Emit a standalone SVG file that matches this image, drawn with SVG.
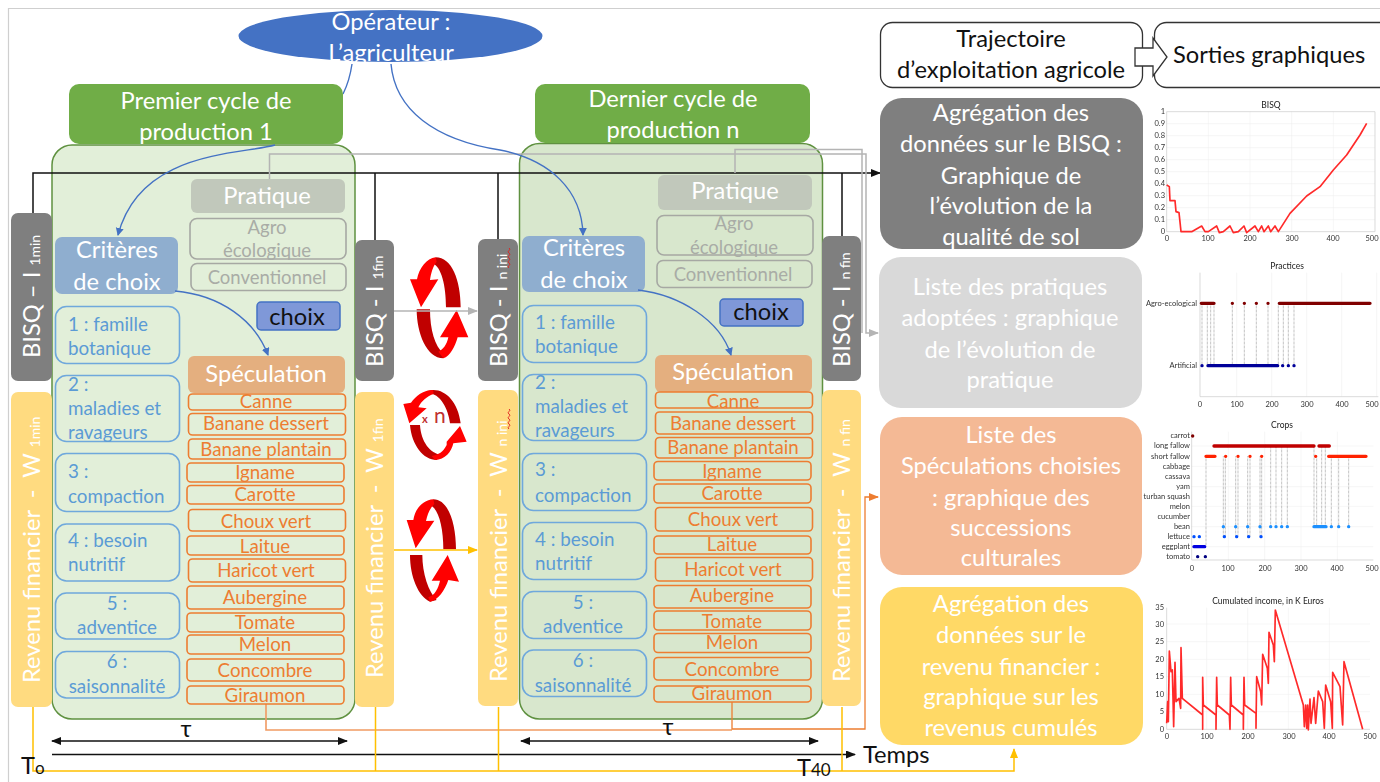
<svg xmlns="http://www.w3.org/2000/svg" width="1380" height="782" viewBox="0 0 1380 782">
<defs>
<style>
text{font-family:"Lato","Liberation Sans",sans-serif}
.w{fill:#fff}.k{fill:#111}
.c{text-anchor:middle}
.t24{font-size:23.7px}.t22{font-size:23.700px}
.bisq{fill:#7f7f7f}.rev{fill:#ffdb80}
.crit{fill:#8faecf}.prat{fill:#c1c8bb}.spec{fill:#e4af7f}
.gbox{fill:none;stroke:#a6a8a3;stroke-width:1.6}
.gtxt{fill:#a9aca6;font-size:18.5px;text-anchor:middle}
.cbox{fill:none;stroke:#6fa8dc;stroke-width:1.6}
.ctxt{fill:#5b9bd5;font-size:18.8px}
.obox{fill:none;stroke:#ed7d31;stroke-width:1.6}
.otxt{fill:#ed7d31;font-size:18.7px;text-anchor:middle}
.blue{fill:none;stroke:#4472c4;stroke-width:1.4}
.blk{fill:none;stroke:#111;stroke-width:1.5}
.gry{fill:none;stroke:#b4b4b4;stroke-width:1.5}
.gold{fill:none;stroke:#ffc000;stroke-width:1.5}
.org{fill:none;stroke:#ed7d31;stroke-width:1.3}
.dk{fill:#c00000}.br{fill:#ff0000}
.axis{fill:none;stroke:#c8c8c8;stroke-width:2}
.grid{fill:none;stroke:#ececec;stroke-width:1.5}
.lab{font-size:7.5px;fill:#333}
.ttl{font-size:8.5px;fill:#222;text-anchor:middle}
.rd{fill:none;stroke:#ff2a2a;stroke-width:5;stroke-linejoin:round}
.dot{fill:none;stroke-linecap:round;stroke-width:10}
.vd{fill:none;stroke:#777;stroke-width:2;stroke-dasharray:2 2}
.sq{fill:none;stroke:#e02020;stroke-width:.9}
</style>
<marker id="mb" markerWidth="9" markerHeight="9" refX="7" refY="4" orient="auto" markerUnits="userSpaceOnUse"><path d="M0 0L8 4L0 8Z" fill="#4472c4"/></marker>
<marker id="mk" markerWidth="11" markerHeight="9" refX="9" refY="4" orient="auto" markerUnits="userSpaceOnUse"><path d="M0 0L10 4L0 8Z" fill="#111"/></marker>
<marker id="mks" markerWidth="11" markerHeight="9" refX="1" refY="4" orient="auto" markerUnits="userSpaceOnUse"><path d="M10 0L0 4L10 8Z" fill="#111"/></marker>
<marker id="mg" markerWidth="11" markerHeight="9" refX="9" refY="4" orient="auto" markerUnits="userSpaceOnUse"><path d="M0 0L10 4L0 8Z" fill="#b4b4b4"/></marker>
<marker id="my" markerWidth="11" markerHeight="9" refX="9" refY="4" orient="auto" markerUnits="userSpaceOnUse"><path d="M0 0L10 4L0 8Z" fill="#ffc000"/></marker>
<marker id="mo" markerWidth="11" markerHeight="9" refX="9" refY="4" orient="auto" markerUnits="userSpaceOnUse"><path d="M0 0L10 4L0 8Z" fill="#ed7d31"/></marker>
<filter id="soft" x="-5%" y="-5%" width="110%" height="110%"><feGaussianBlur stdDeviation="0.45"/></filter>
<filter id="softt" x="-5%" y="-5%" width="110%" height="110%"><feGaussianBlur stdDeviation="0.3"/></filter>
</defs>
<rect width="1380" height="782" fill="#fff"/>
<path d="M8.5 782V8.5H1380" fill="none" stroke="#cfcfcf" stroke-width="1.2"/>

<g id="cycle1-box"><rect x="52" y="145" width="303" height="574" rx="20" fill="#e2efd9" stroke="#5f9140" stroke-width="1.5"/></g>
<g id="cycle2-box"><rect x="519.5" y="143.5" width="303" height="575.500" rx="20" fill="#d8e7cd" stroke="#5f9140" stroke-width="1.5"/></g>

<g id="connectors">
<path class="blk" d="M33 213V173H880" marker-end="url(#mk)"/>
<path class="blk" d="M375 173V240M498 173V239M842 173V236"/>
<path class="gry" d="M269.500 179V154H866V333H878" marker-end="url(#mg)"/>
<path class="gry" d="M735 173V149.500H862V333"/>
<path d="M266 704V730H732" fill="none" stroke="#f19a62" stroke-width="1.600"/>
<path class="org" d="M732 702V729H865V497H878" marker-end="url(#mo)"/>
<path class="blk" d="M52 741H347" marker-start="url(#mks)" marker-end="url(#mk)"/>
<path class="blk" d="M521 741H818" marker-start="url(#mks)" marker-end="url(#mk)"/>
<path class="blk" d="M52 754.500H855" marker-end="url(#mk)"/>
<path class="gold" d="M33 707V771H1014V749" marker-end="url(#my)"/>
<path class="gold" d="M375.500 707V771M498.500 707V771M842 707V771"/>
<path class="blue" d="M352 64C350 78 347 86 343 94"/>
<path class="blue" d="M391 64C395 110 435 140 500 150C550 160 582 190 583 235" marker-end="url(#mb)"/>
</g>

<g id="operateur"><ellipse cx="390.500" cy="36" rx="152" ry="26" fill="#4472c4"/>
<text class="w c t24" x="391" y="30">Opérateur :</text><text class="w c t24" x="391" y="61">L’agriculteur</text></g>

<g id="cycle1-title"><rect x="69" y="84" width="274" height="60" rx="10" fill="#70ad47"/>
<text class="w c t24" x="206" y="109">Premier cycle de</text><text class="w c t24" x="206" y="140">production 1</text></g>
<g id="cycle2-title"><rect x="535" y="84" width="275" height="59" rx="10" fill="#70ad47"/>
<text class="w c t24" x="673" y="107">Dernier cycle de</text><text class="w c t24" x="673" y="138">production n</text></g>

<g id="bisq-1min"><rect class="bisq" x="11" y="213" width="41" height="168" rx="7"/><text class="w t22" transform="translate(40 358) rotate(-90)">BISQ – I <tspan font-size="14">1min</tspan></text></g>
<g id="bisq-1fin"><rect class="bisq" x="355" y="240" width="39" height="141" rx="7"/><text class="w t22" transform="translate(383 367) rotate(-90)">BISQ - I <tspan font-size="14">1fin</tspan></text></g>
<g id="bisq-nini"><rect class="bisq" x="478" y="239" width="40" height="142" rx="7"/><text class="w t22" transform="translate(507 367) rotate(-90)">BISQ - I <tspan font-size="14">n ini</tspan></text><path class="sq" d="M509 248q2 1 0 2.500t0 2.500t0 2.500t0 2.500t0 2.500t0 2.500t0 2.500t0 2.500"/></g>
<g id="bisq-nfin"><rect class="bisq" x="822" y="236" width="39" height="145" rx="7"/><text class="w t22" transform="translate(850 367) rotate(-90)">BISQ - I <tspan font-size="14">n fin</tspan></text></g>

<g id="rev-1min"><rect class="rev" x="11" y="392" width="41" height="315" rx="7"/><text class="w t22" transform="translate(40 683) rotate(-90)">Revenu financier &#160;- &#160;W <tspan font-size="14">1min</tspan></text></g>
<g id="rev-1fin"><rect class="rev" x="355" y="392" width="39" height="315" rx="7"/><text class="w t22" transform="translate(383 678) rotate(-90)">Revenu financier &#160;- &#160;W <tspan font-size="14">1fin</tspan></text></g>
<g id="rev-nini"><rect class="rev" x="478" y="390" width="40" height="316" rx="7"/><text class="w t22" transform="translate(507 682) rotate(-90)">Revenu financier &#160;- &#160;W <tspan font-size="14">n ini</tspan></text><path class="sq" d="M509 409q2 1 0 2.500t0 2.500t0 2.500t0 2.500t0 2.500t0 2.500t0 2.500t0 2.500"/></g>
<g id="rev-nfin"><rect class="rev" x="822" y="390" width="39" height="316" rx="7"/><text class="w t22" transform="translate(850 682) rotate(-90)">Revenu financier &#160;- &#160;W <tspan font-size="14">n fin</tspan></text></g>

<g id="pratique1"><rect class="prat" x="191" y="179" width="154" height="34" rx="6"/><text class="w c t22" x="267" y="204">Pratique</text></g>
<g id="agro1"><rect class="gbox" x="190" y="218.500" width="156" height="40.500" rx="7"/><text class="gtxt" x="267" y="234">Agro</text><text class="gtxt" x="267" y="257">écologique</text></g>
<g id="conv1"><rect class="gbox" x="191" y="263.500" width="155" height="27" rx="6"/><text class="gtxt" x="267" y="284">Conventionnel</text></g>
<g id="criteres1"><rect class="crit" x="55" y="237" width="123" height="57" rx="7"/><text class="w c t22" x="117" y="258">Critères</text><text class="w c t22" x="117" y="290">de choix</text></g>
<g id="choix1"><rect x="257" y="302" width="83" height="28" rx="4" fill="#7f98d8" stroke="#4472c4" stroke-width="1.500"/><text class="k c t22" x="297" y="325">choix</text></g>
<g id="c1-1"><rect class="cbox" x="55.500" y="306.500" width="124" height="57" rx="11"/><text class="ctxt" x="68" y="331">1 : famille</text><text class="ctxt" x="68" y="355">botanique</text></g>
<g id="c1-2"><rect class="cbox" x="55.500" y="375.500" width="124" height="66" rx="11"/><text class="ctxt" x="68" y="391">2 :</text><text class="ctxt" x="68" y="415">maladies et</text><text class="ctxt" x="68" y="439">ravageurs</text></g>
<g id="c1-3"><rect class="cbox" x="55.500" y="453.500" width="124" height="58" rx="11"/><text class="ctxt" x="68" y="478">3 :</text><text class="ctxt" x="68" y="503">compaction</text></g>
<g id="c1-4"><rect class="cbox" x="55.500" y="524" width="124" height="57" rx="11"/><text class="ctxt" x="68" y="547">4 : besoin</text><text class="ctxt" x="68" y="571">nutritif</text></g>
<g id="c1-5"><rect class="cbox" x="55.500" y="593" width="124" height="46" rx="11"/><text class="ctxt c" x="117" y="610">5 :</text><text class="ctxt c" x="117" y="634">adventice</text></g>
<g id="c1-6"><rect class="cbox" x="55.500" y="651.500" width="124" height="46.500" rx="11"/><text class="ctxt c" x="117" y="668">6 :</text><text class="ctxt c" x="117" y="693">saisonnalité</text></g>
<g id="speculation1"><rect class="spec" x="188" y="356" width="157" height="37" rx="6"/><text class="w c t22" x="266" y="382">Spéculation</text></g>
<g id="crops1">
<rect class="obox" x="188.500" y="394" width="157" height="16" rx="4"/><text class="otxt" x="266" y="408">Canne</text>
<rect class="obox" x="188.500" y="413.500" width="157" height="21.500" rx="4"/><text class="otxt" x="266" y="430">Banane dessert</text>
<rect class="obox" x="188.500" y="439" width="157" height="20" rx="4"/><text class="otxt" x="266" y="456">Banane plantain</text>
<rect class="obox" x="187" y="463" width="157" height="19" rx="4"/><text class="otxt" x="265" y="479">Igname</text>
<rect class="obox" x="187" y="485.500" width="157" height="18.500" rx="4"/><text class="otxt" x="265" y="501">Carotte</text>
<rect class="obox" x="188.500" y="509.500" width="157" height="21.500" rx="4"/><text class="otxt" x="266" y="528">Choux vert</text>
<rect class="obox" x="187" y="536" width="157" height="19" rx="4"/><text class="otxt" x="265" y="553">Laitue</text>
<rect class="obox" x="188.500" y="559" width="157" height="23" rx="4"/><text class="otxt" x="266" y="577">Haricot vert</text>
<rect class="obox" x="187" y="586" width="157" height="23" rx="4"/><text class="otxt" x="265" y="604">Aubergine</text>
<rect class="obox" x="187" y="613" width="157" height="19" rx="4"/><text class="otxt" x="265" y="629">Tomate</text>
<rect class="obox" x="187" y="635" width="157" height="19" rx="4"/><text class="otxt" x="265" y="651">Melon</text>
<rect class="obox" x="187" y="659" width="157" height="22" rx="4"/><text class="otxt" x="265" y="677">Concombre</text>
<rect class="obox" x="187" y="686" width="157" height="18" rx="4"/><text class="otxt" x="265" y="702">Giraumon</text>
</g>

<g id="pratique2"><rect class="prat" x="658" y="175" width="154" height="35" rx="6"/><text class="w c t22" x="735" y="199">Pratique</text></g>
<g id="agro2"><rect class="gbox" x="657" y="215.500" width="156" height="39.500" rx="7"/><text class="gtxt" x="734" y="230">Agro</text><text class="gtxt" x="734" y="254">écologique</text></g>
<g id="conv2"><rect class="gbox" x="657" y="260.500" width="155" height="27" rx="6"/><text class="gtxt" x="733" y="281">Conventionnel</text></g>
<g id="criteres2"><rect class="crit" x="522" y="236" width="123" height="56" rx="7"/><text class="w c t22" x="584" y="256">Critères</text><text class="w c t22" x="584" y="288">de choix</text></g>
<g id="choix2"><rect x="720" y="299" width="83" height="27" rx="4" fill="#7f98d8" stroke="#4472c4" stroke-width="1.500"/><text class="k c t22" x="761" y="320">choix</text></g>
<g id="c2-1"><rect class="cbox" x="522.500" y="305.500" width="124" height="57" rx="11"/><text class="ctxt" x="535" y="329">1 : famille</text><text class="ctxt" x="535" y="353">botanique</text></g>
<g id="c2-2"><rect class="cbox" x="522.500" y="374.500" width="124" height="66" rx="11"/><text class="ctxt" x="535" y="389">2 :</text><text class="ctxt" x="535" y="413">maladies et</text><text class="ctxt" x="535" y="437">ravageurs</text></g>
<g id="c2-3"><rect class="cbox" x="522.500" y="453.500" width="124" height="57" rx="11"/><text class="ctxt" x="535" y="476">3 :</text><text class="ctxt" x="535" y="502">compaction</text></g>
<g id="c2-4"><rect class="cbox" x="522.500" y="522.500" width="124" height="57" rx="11"/><text class="ctxt" x="535" y="546">4 : besoin</text><text class="ctxt" x="535" y="570">nutritif</text></g>
<g id="c2-5"><rect class="cbox" x="522.500" y="591.500" width="124" height="47" rx="11"/><text class="ctxt c" x="583" y="609">5 :</text><text class="ctxt c" x="583" y="633">adventice</text></g>
<g id="c2-6"><rect class="cbox" x="522.500" y="650" width="124" height="46.500" rx="11"/><text class="ctxt c" x="583" y="667">6 :</text><text class="ctxt c" x="583" y="692">saisonnalité</text></g>
<g id="speculation2"><rect class="spec" x="655" y="355" width="157" height="37" rx="6"/><text class="w c t22" x="733" y="380">Spéculation</text></g>
<g id="crops2">
<rect class="obox" x="655.500" y="392" width="157" height="16" rx="4"/><text class="otxt" x="733" y="408">Canne</text>
<rect class="obox" x="655.500" y="412" width="157" height="22" rx="4"/><text class="otxt" x="733" y="430">Banane dessert</text>
<rect class="obox" x="655.500" y="437.500" width="157" height="20.500" rx="4"/><text class="otxt" x="733" y="454">Banane plantain</text>
<rect class="obox" x="654" y="461.500" width="157" height="18.500" rx="4"/><text class="otxt" x="732" y="478">Igname</text>
<rect class="obox" x="654" y="484" width="157" height="19" rx="4"/><text class="otxt" x="732" y="500">Carotte</text>
<rect class="obox" x="655.500" y="507.500" width="157" height="23.500" rx="4"/><text class="otxt" x="733" y="526">Choux vert</text>
<rect class="obox" x="654" y="536" width="157" height="18" rx="4"/><text class="otxt" x="732" y="551">Laitue</text>
<rect class="obox" x="655.500" y="557.500" width="157" height="23.500" rx="4"/><text class="otxt" x="733" y="576">Haricot vert</text>
<rect class="obox" x="654" y="585.500" width="157" height="22.500" rx="4"/><text class="otxt" x="732" y="602">Aubergine</text>
<rect class="obox" x="654" y="611" width="157" height="19" rx="4"/><text class="otxt" x="732" y="628">Tomate</text>
<rect class="obox" x="654" y="633.500" width="157" height="19" rx="4"/><text class="otxt" x="732" y="649">Melon</text>
<rect class="obox" x="654" y="657.500" width="157" height="22.500" rx="4"/><text class="otxt" x="732" y="676">Concombre</text>
<rect class="obox" x="654" y="686" width="157" height="16" rx="4"/><text class="otxt" x="732" y="700">Giraumon</text>
</g>

<g id="connectors-inner">
<path class="blue" d="M275 145C240 155 140 150 118 235" marker-end="url(#mb)"/>
<path class="blue" d="M175 291C220 295 255 320 268 355" marker-end="url(#mb)"/>
<path class="blue" d="M638 290C680 295 720 320 731 355" marker-end="url(#mb)"/>
</g>

<g id="cycle-arrows-top" transform="translate(395 250) scale(.33333)">
<path class="dk" d="M197 172C197 90 170 22 122 22L112 40C140 50 153 110 153 172Z"/>
<path class="br" d="M122 22C95 25 72 55 66 88L45 88L78 172L130 88L105 90C108 70 113 50 125 35Z"/>
<path class="dk" d="M65 178H105C105 240 120 290 145 310V325C95 325 65 250 65 178Z"/>
<path class="br" d="M145 325C165 320 180 290 188 262L220 262L185 180L135 262L160 262C155 285 145 298 130 305Z"/>
</g>
<g id="cycle-arrows-mid" transform="translate(395 380) scale(.33333)">
<path class="dk" d="M197 130C190 70 155 30 115 30L95 33L110 42C135 45 160 85 165 130Z"/>
<path class="br" d="M115 30C85 30 62 48 48 68L25 72L43 130L95 85L70 82C80 62 95 50 115 42Z"/>
<path class="dk" d="M45 135C50 195 85 240 125 240L140 225C105 220 78 185 75 135Z"/>
<path class="br" d="M120 240C150 240 170 215 175 190L215 185L195 138L155 185L155 195C145 215 130 225 110 228Z"/>
</g>
<g id="cycle-arrows-bottom" transform="translate(395 490) scale(.33333)">
<path class="dk" d="M183 178C183 100 160 28 115 28L105 45C130 55 145 110 145 178Z"/>
<path class="br" d="M115 28C85 30 60 55 55 90L35 90L62 175L118 92L93 93C98 70 105 55 118 42Z"/>
<path class="dk" d="M45 195H82C82 250 100 305 125 330L105 335C70 320 45 260 45 195Z"/>
<path class="br" d="M105 335C130 330 150 300 160 270L192 275L158 195L110 272L135 272C130 295 120 315 100 322Z"/>
</g>
<g id="connectors-over">
<path class="gry" d="M394 311H477" marker-end="url(#mg)"/>
<path class="gold" d="M394 550H477" marker-end="url(#my)"/>
</g>

<g id="labels">
<text x="422" y="423" font-size="11" fill="#c03030" font-weight="700">x</text><text x="434" y="423" font-size="21" fill="#c03030">n</text>
<text class="k c t22" x="186" y="737">τ</text><text class="k c t22" x="668" y="735">τ</text>
<text class="k t22" x="863" y="763">Temps</text>
<text class="k t24" x="21" y="774">T<tspan font-size="17">o</tspan></text>
<text class="k t24" x="797" y="776">T<tspan font-size="17">40</tspan></text>
</g>

<g id="trajectoire"><rect x="880.500" y="22.500" width="262" height="65" rx="12" fill="#fff" stroke="#333" stroke-width="1.300"/>
<text class="k c t24" x="1011" y="47">Trajectoire</text><text class="k c t24" x="1011" y="78">d’exploitation agricole</text></g>
<g id="sorties"><rect x="1154.500" y="22.500" width="240" height="65" rx="12" fill="#fff" stroke="#333" stroke-width="1.300"/>
<text class="k t24" x="1173" y="63">Sorties graphiques</text></g>
<g id="block-arrow"><path d="M1135 48H1153V38L1167 57L1153 76V66H1135Z" fill="#fff" stroke="#333" stroke-width="1.300"/></g>

<g id="s-bisq"><rect x="880" y="98" width="263" height="151" rx="22" fill="#7f7f7f"/>
<text class="w c t24" x="1011" y="121">Agrégation des</text><text class="w c t24" x="1011" y="152">données sur le BISQ :</text><text class="w c t24" x="1011" y="184">Graphique de</text><text class="w c t24" x="1011" y="214">l’évolution de la</text><text class="w c t24" x="1011" y="245">qualité de sol</text></g>
<g id="s-pratiques"><rect x="879" y="257" width="263" height="151" rx="22" fill="#d9d9d9"/>
<text class="w c t24" x="1010" y="295">Liste des pratiques</text><text class="w c t24" x="1010" y="326">adoptées : graphique</text><text class="w c t24" x="1010" y="358">de l’évolution de</text><text class="w c t24" x="1010" y="388">pratique</text></g>
<g id="s-speculations"><rect x="880" y="417" width="262" height="158" rx="22" fill="#f4b995"/>
<text class="w c t24" x="1011" y="443">Liste des</text><text class="w c t24" x="1011" y="474">Spéculations choisies</text><text class="w c t24" x="1011" y="506">: graphique des</text><text class="w c t24" x="1011" y="536">successions</text><text class="w c t24" x="1011" y="566">culturales</text></g>
<g id="s-revenus"><rect x="880" y="587" width="263" height="158" rx="22" fill="#ffd966"/>
<text class="w c t24" x="1011" y="612">Agrégation des</text><text class="w c t24" x="1011" y="643">données sur le</text><text class="w c t24" x="1011" y="675">revenu financier :</text><text class="w c t24" x="1011" y="705">graphique sur les</text><text class="w c t24" x="1011" y="736">revenus cumulés</text></g>

<g id="chart-bisq">
<g transform="translate(1140 90) scale(.33333)" filter="url(#soft)">
<path class="grid" d="M205 65V425M330 65V425M455 65V425M580 65V425M80 101H705M80 137H705M80 173H705M80 209H705M80 245H705M80 281H705M80 317H705M80 353H705M80 389H705"/>
<path class="axis" d="M80 65H705V425H80Z"/>
<path class="rd" d="M80 285L88 290L90 332L105 332L108 365L117 368L123 425L155 425L185 408L195 425L205 425L230 408L238 428L250 425L270 408L280 428L295 425L312 408L320 428L345 408L355 425L365 408L372 425L385 408L392 425L405 408L415 425L450 370L500 318L540 290L580 240L620 195L660 135L680 100"/>
</g>
<g filter="url(#softt)">
<text class="ttl" x="1271" y="108">BISQ</text>
<g class="lab" text-anchor="end"><text x="1165" y="114">1</text><text x="1165" y="126">0.9</text><text x="1165" y="138">0.8</text><text x="1165" y="150">0.7</text><text x="1165" y="162">0.6</text><text x="1165" y="174">0.5</text><text x="1165" y="186">0.4</text><text x="1165" y="198">0.3</text><text x="1165" y="210">0.2</text><text x="1165" y="222">0.1</text><text x="1165" y="234">0</text></g>
<g class="lab" text-anchor="middle"><text x="1167" y="241">0</text><text x="1208" y="241">100</text><text x="1250" y="241">200</text><text x="1292" y="241">300</text><text x="1333" y="241">400</text><text x="1372" y="241">500</text></g>
</g>
</g>

<g id="chart-practices">
<g transform="translate(1140 90) scale(.33333)" filter="url(#soft)">
<path class="grid" d="M290 548V920M395 548V920M500 548V920M605 548V920M710 548V920"/>
<path class="axis" d="M180 548V920H715"/>
<path class="vd" d="M186 640V827M202 640V827M212 640V827M222 640V827M277 640V827M313 640V827M349 640V827M384 640V827M415 640V827M430 640V827M445 640V827M462 640V827"/>
<path class="dot" stroke="#800000" d="M184 640H222M277 640h.1M313 640h.1M349 640h.1M384 640h.1M418 640H690"/>
<path class="dot" stroke="#000099" d="M186 827h.1M204 827H413M428 827h.1M445 827h.1M462 827h.1"/>
</g>
<g filter="url(#softt)">
<text class="ttl" x="1287" y="269">Practices</text>
<g class="lab" text-anchor="end"><text x="1197" y="306">Agro-ecological</text><text x="1197" y="368">Artificial</text></g>
<g class="lab" text-anchor="middle"><text x="1200" y="407">0</text><text x="1237" y="407">100</text><text x="1272" y="407">200</text><text x="1307" y="407">300</text><text x="1342" y="407">400</text><text x="1372" y="407">500</text></g>
</g>
</g>

<g id="chart-crops">
<g transform="translate(1140 415) scale(.33333)" filter="url(#soft)">
<path class="grid" d="M265 50V435M374 50V435M483 50V435M592 50V435M155 93H700M155 154H700M155 215H700M155 274H700M155 335H700M155 395H700"/>
<path class="axis" d="M155 50V435H700"/>
<path class="vd" d="M198 124V395M250 124V365M256 124V365M287 124V365M294 124V365M323 124V365M330 124V365M360 124V365M365 124V365M392 93V335M408 93V335M425 93V335M442 93V335M522 93V335M530 124V335M545 93V335M556 93V335M574 124V335M596 124V335M626 124V335"/>
<path class="dot" stroke="#800000" d="M158 63h.1"/>
<path class="dot" stroke="#c00000" d="M222 93H522M537 93H568"/>
<path class="dot" stroke="#ff2000" d="M198 124H225M257 124h.1M294 124h.1M330 124h.1M365 124h.1M527 124h.1M566 124H678"/>
<path class="dot" stroke="#1e90ff" d="M250 335h.1M287 335h.1M323 335h.1M360 335h.1M392 335h.1M408 335h.1M425 335h.1M442 335h.1M522 335H558M574 335h.1M596 335h.1M626 335h.1"/>
<path class="dot" stroke="#0050ff" d="M162 365h.1M178 365h.1M253 365h.1M290 365h.1M326 365h.1M363 365h.1"/>
<path class="dot" stroke="#0000e0" d="M162 395H194"/>
<path class="dot" stroke="#000080" d="M173 425h.1M196 425h.1"/>
</g>
<g filter="url(#softt)">
<text class="ttl" x="1282" y="428">Crops</text>
<g class="lab" text-anchor="end"><text x="1190" y="438">carrot</text><text x="1190" y="448">long fallow</text><text x="1190" y="459">short fallow</text><text x="1190" y="469">cabbage</text><text x="1190" y="479">cassava</text><text x="1190" y="489">yam</text><text x="1190" y="499">turban squash</text><text x="1190" y="509">melon</text><text x="1190" y="519">cucumber</text><text x="1190" y="529">bean</text><text x="1190" y="539">lettuce</text><text x="1190" y="549">eggplant</text><text x="1190" y="559">tomato</text></g>
<g class="lab" text-anchor="middle"><text x="1192" y="571">0</text><text x="1228" y="571">100</text><text x="1265" y="571">200</text><text x="1301" y="571">300</text><text x="1337" y="571">400</text><text x="1372" y="571">500</text></g>
</g>
</g>

<g id="chart-income">
<g transform="translate(1140 415) scale(.33333)" filter="url(#soft)">
<path class="grid" d="M200 578V943M323 578V943M445 578V943M568 578V943M80 627H690M80 680H690M80 733H690M80 785H690M80 838H690M80 890H690"/>
<path class="axis" d="M80 578V943H690"/>
<path class="rd" d="M80 925L83 860L85 920L88 708L93 770L97 765L101 935L105 742L108 860L117 850L122 880L123 698L127 850L188 900L188 943L188 787L190 870L228 900L228 943L230 787L232 870L268 900L270 943L272 787L274 870L310 900L310 943L312 787L314 870L348 895L348 940L350 785L362 830L365 870L368 718L382 760L385 805L387 652L400 690L403 740L406 585L490 870L493 935L497 870L500 940L503 870L505 945L510 852L513 925L522 848L527 925L535 828L548 860L553 940L557 810L572 860L577 940L578 772L600 815L608 930L612 740L668 943"/>
</g>
<g filter="url(#softt)">
<text class="ttl" x="1268" y="604">Cumulated income, in K Euros</text>
<g class="lab" text-anchor="end"><text x="1164" y="610">35</text><text x="1164" y="627">30</text><text x="1164" y="644">25</text><text x="1164" y="662">20</text><text x="1164" y="679">15</text><text x="1164" y="697">10</text><text x="1164" y="714">5</text><text x="1164" y="732">0</text></g>
<g class="lab" text-anchor="middle"><text x="1167" y="739">0</text><text x="1207" y="739">100</text><text x="1248" y="739">200</text><text x="1289" y="739">300</text><text x="1329" y="739">400</text><text x="1370" y="739">500</text></g>
</g>
</g>
</svg>
